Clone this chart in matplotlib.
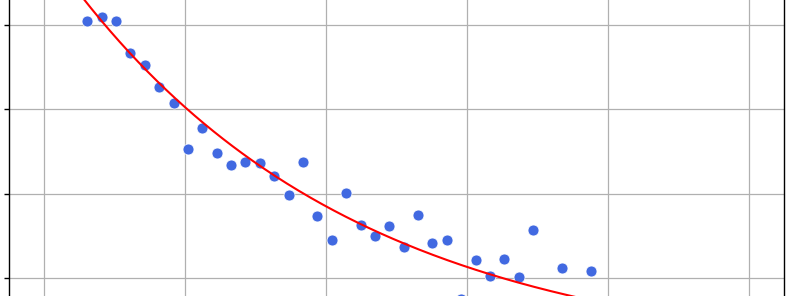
import numpy as np
import matplotlib
matplotlib.use("Agg")
import matplotlib.pyplot as plt

x_data = [0.612, 0.816, 1.020, 1.224, 1.429, 1.633, 1.837, 2.041, 2.245, 2.449,
          2.653, 2.857, 3.061, 3.265, 3.469, 3.673, 3.878, 4.082, 4.286, 4.490,
          4.694, 4.898, 5.102, 5.306, 5.510, 5.714, 5.918, 6.122, 6.327, 6.531,
          6.735, 6.939, 7.347, 7.755, 9.184]
y_data = [4.045, 4.096, 4.045, 3.665, 3.527, 3.262, 3.072, 2.527, 2.776, 2.479,
          2.340, 2.372, 2.364, 2.210, 1.981, 2.372, 1.732, 1.451, 2.005, 1.625,
          1.502, 1.613, 1.364, 1.744, 1.412, 1.451, 0.751, 1.214, 1.024, 1.225,
          1.012, 1.569, 1.119, 1.079, 0.727]

# Fitted exponential-decay curve parameters
fit_a = 4.95
fit_b = 0.246
fit_x_range = [0.0, 10.0]

y_ticks = [0, 1, 2, 3, 4, 5]
x_ticks = [0, 2, 4, 6, 8, 10]

fig = plt.figure(figsize=(8.0, 2.96), dpi=100)
W, H = 800.0, 296.0
px_per_x = 70.5
px_per_y = 84.3
left_px = 44 - 0.5 * px_per_x
bottom_px = 296 - (278 + px_per_y)  # y=0 position measured from figure bottom
ax = fig.add_axes([left_px / W, bottom_px / H, 11 * px_per_x / W, 5 * px_per_y / H])

xf = np.linspace(fit_x_range[0], fit_x_range[1], 300)
ax.scatter(x_data, y_data, s=62, color="#4169E1", edgecolor="white", linewidth=0.5, zorder=3)
ax.plot(xf, fit_a * np.exp(-fit_b * xf), color="red", lw=1.5, zorder=4)

ax.set_xlim(-0.5, 10.5)
ax.set_ylim(0, 5)
ax.set_xticks(x_ticks)
ax.set_yticks(y_ticks)
ax.grid(True, color="#b0b0b0", lw=0.9)
ax.set_axisbelow(True)
ax.tick_params(labelleft=False, labelbottom=False, length=3.5, width=1.0)
for sp in ax.spines.values():
    sp.set_linewidth(1.0)

fig.savefig("out.png", dpi=100)
